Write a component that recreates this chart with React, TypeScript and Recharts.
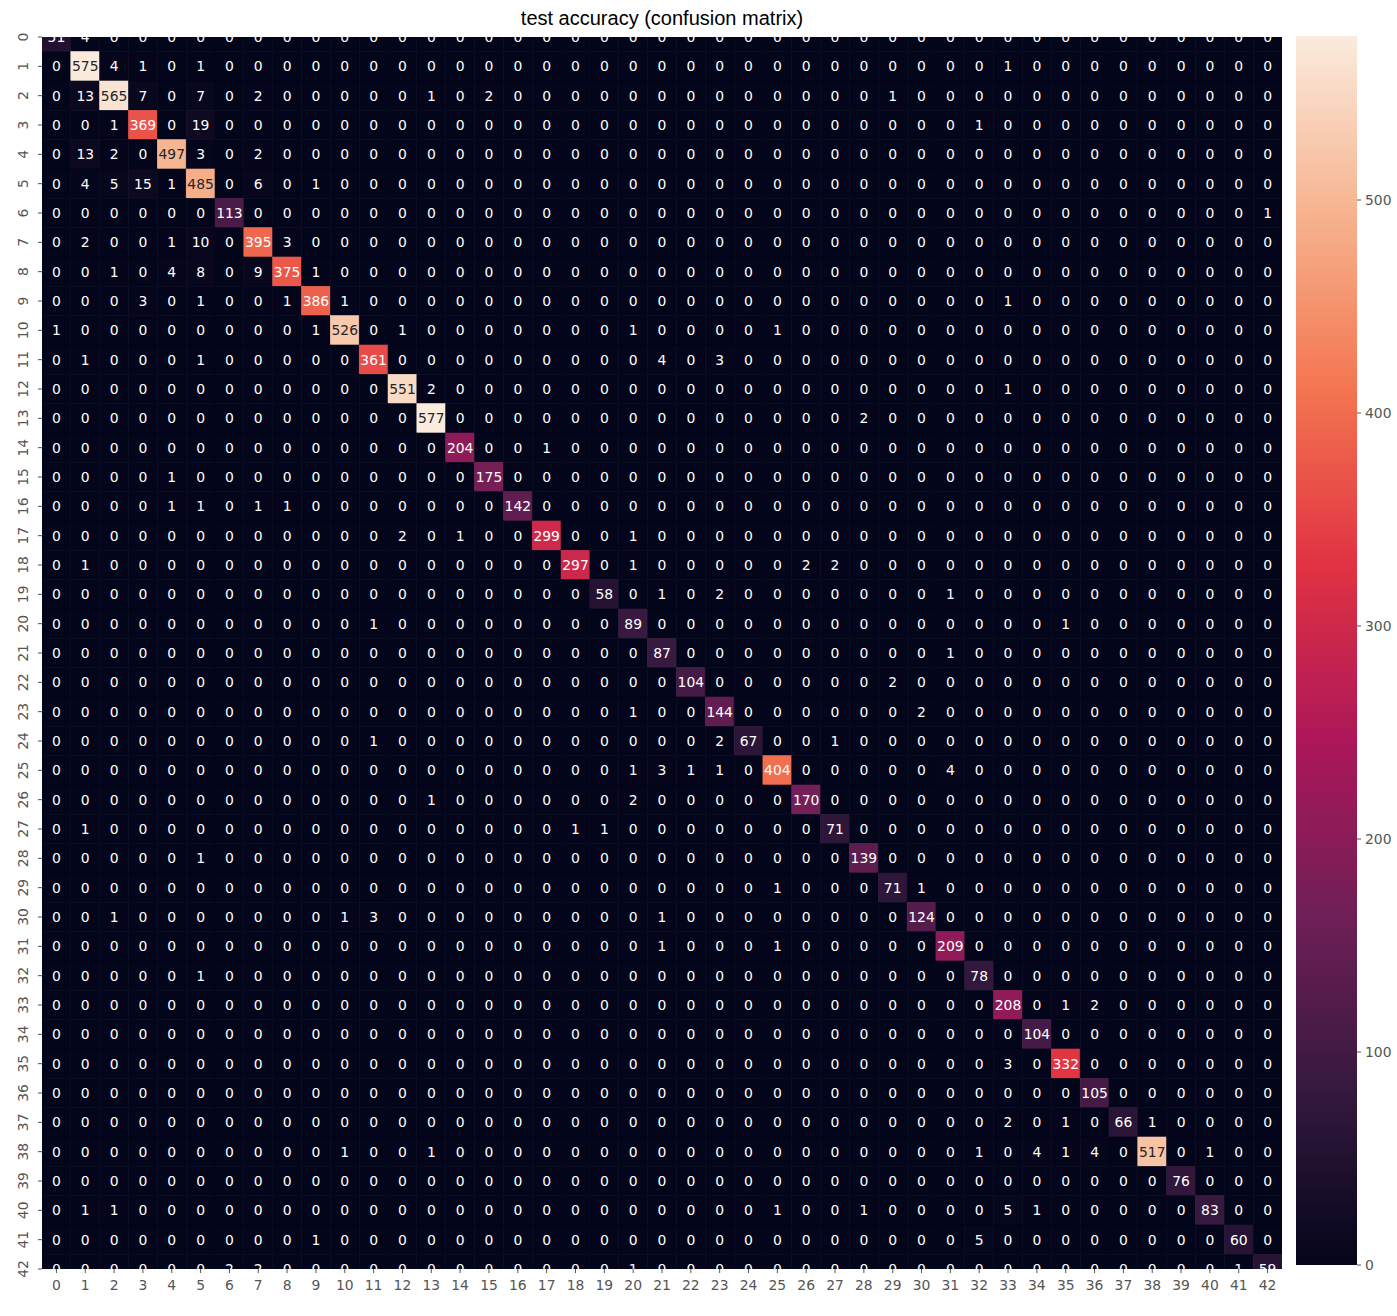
import React from "react";
import { ScatterChart, Scatter, XAxis, YAxis, BarChart, Bar } from "recharts";

// class labels shown on both axes
const classLabels = [
  0, 1, 2, 3, 4, 5, 6, 7, 8, 9, 10, 11, 12, 13, 14, 15, 16, 17, 18, 19, 20, 21,
  22, 23, 24, 25, 26, 27, 28, 29, 30, 31, 32, 33, 34, 35, 36, 37, 38, 39, 40, 41, 42,
];

// correct predictions (row i, col i)
const diagonal = [
  51, 575, 565, 369, 497, 485, 113, 395, 375, 386, 526, 361, 551, 577, 204, 175, 142, 299, 297, 58, 89, 87,
  104, 144, 67, 404, 170, 71, 139, 71, 124, 209, 78, 208, 104, 332, 105, 66, 517, 76, 83, 60, 59,
];

// misclassifications: [true row, predicted col, count]
const offDiagonal: [number, number, number][] = [
  [0, 1, 4],
  [1, 2, 4], [1, 3, 1], [1, 5, 1], [1, 33, 1],
  [2, 1, 13], [2, 3, 7], [2, 5, 7], [2, 7, 2], [2, 13, 1], [2, 15, 2], [2, 29, 1],
  [3, 2, 1], [3, 5, 19], [3, 32, 1],
  [4, 1, 13], [4, 2, 2], [4, 5, 3], [4, 7, 2],
  [5, 1, 4], [5, 2, 5], [5, 3, 15], [5, 4, 1], [5, 7, 6], [5, 9, 1],
  [6, 42, 1],
  [7, 1, 2], [7, 4, 1], [7, 5, 10], [7, 8, 3],
  [8, 2, 1], [8, 4, 4], [8, 5, 8], [8, 7, 9], [8, 9, 1],
  [9, 3, 3], [9, 5, 1], [9, 8, 1], [9, 10, 1], [9, 33, 1],
  [10, 0, 1], [10, 9, 1], [10, 12, 1], [10, 20, 1], [10, 25, 1],
  [11, 1, 1], [11, 5, 1], [11, 21, 4], [11, 23, 3],
  [12, 13, 2], [12, 33, 1],
  [13, 28, 2],
  [14, 17, 1],
  [15, 4, 1],
  [16, 4, 1], [16, 5, 1], [16, 7, 1], [16, 8, 1],
  [17, 12, 2], [17, 14, 1], [17, 20, 1],
  [18, 1, 1], [18, 20, 1], [18, 26, 2], [18, 27, 2],
  [19, 21, 1], [19, 23, 2], [19, 31, 1],
  [20, 11, 1], [20, 35, 1],
  [21, 31, 1],
  [22, 29, 2],
  [23, 20, 1], [23, 30, 2],
  [24, 11, 1], [24, 23, 2], [24, 27, 1],
  [25, 20, 1], [25, 21, 3], [25, 22, 1], [25, 23, 1], [25, 31, 4],
  [26, 13, 1], [26, 20, 2],
  [27, 1, 1], [27, 18, 1], [27, 19, 1],
  [28, 5, 1],
  [29, 25, 1], [29, 30, 1],
  [30, 2, 1], [30, 10, 1], [30, 11, 3], [30, 21, 1],
  [31, 21, 1], [31, 25, 1],
  [32, 5, 1],
  [33, 35, 1], [33, 36, 2],
  [35, 33, 3],
  [37, 33, 2], [37, 35, 1], [37, 38, 1],
  [38, 10, 1], [38, 13, 1], [38, 32, 1], [38, 34, 4], [38, 35, 1], [38, 36, 4], [38, 40, 1],
  [40, 1, 1], [40, 2, 1], [40, 25, 1], [40, 28, 1], [40, 33, 5], [40, 34, 1],
  [41, 9, 1], [41, 32, 5],
  [42, 6, 2], [42, 7, 2], [42, 20, 1], [42, 41, 1],
];

const colorbarTicks = [0, 100, 200, 300, 400, 500];

// seaborn "rocket" colormap, approximated
const ROCKET: [number, string][] = [
  [0, "#03051a"],
  [1 / 7, "#35193e"],
  [2 / 7, "#701f57"],
  [3 / 7, "#ad1759"],
  [4 / 7, "#e13342"],
  [5 / 7, "#f37651"],
  [6 / 7, "#f6b48f"],
  [1, "#faebdd"],
];

const hexToRgb = (h: string) => [1, 3, 5].map((i) => parseInt(h.slice(i, i + 2), 16));

function rocketRgb(t: number) {
  const c = Math.max(0, Math.min(1, t));
  for (let i = 1; i < ROCKET.length; i++) {
    if (c <= ROCKET[i][0]) {
      const [t0, h0] = ROCKET[i - 1];
      const [t1, h1] = ROCKET[i];
      const f = (c - t0) / (t1 - t0);
      const a = hexToRgb(h0);
      const b = hexToRgb(h1);
      return a.map((v, k) => Math.round(v + (b[k] - v) * f));
    }
  }
  return hexToRgb(ROCKET[ROCKET.length - 1][1]);
}

function luminance(rgb: number[]) {
  const lin = rgb.map((v) => {
    const s = v / 255;
    return s <= 0.03928 ? s / 12.92 : Math.pow((s + 0.055) / 1.055, 2.4);
  });
  return 0.2126 * lin[0] + 0.7152 * lin[1] + 0.0722 * lin[2];
}

const N = classLabels.length;
const matrix: number[][] = classLabels.map((r) => classLabels.map((c) => (r === c ? diagonal[r] : 0)));
offDiagonal.forEach(([r, c, v]) => {
  matrix[r][c] = v;
});
const cells = matrix.flatMap((row, r) => row.map((value, c) => ({ x: c, y: r, value })));
const colorMax = Math.max(...cells.map((d) => d.value));

// layout
const CHART_W = 1290;
const CHART_H = 1316;
const MARGIN = { top: 37, right: 8, bottom: 17, left: 12 };
const Y_AXIS_W = 30;
const X_AXIS_H = 30;
const PLOT_W = CHART_W - MARGIN.left - MARGIN.right - Y_AXIS_W;
const PLOT_H = CHART_H - MARGIN.top - MARGIN.bottom - X_AXIS_H;
const CELL_W = PLOT_W / N;
const CELL_H = PLOT_H / (N - 1); // half rows cut at top and bottom

const FONT = "'DejaVu Sans', sans-serif";
const TICK_COLOR = "#555555";

const HeatCell = (props: any) => {
  const { cx, cy, payload } = props;
  if (cx == null || cy == null) return null;
  const rgb = rocketRgb(payload.value / colorMax);
  const fill = `rgb(${rgb.join(",")})`;
  const textColor = luminance(rgb) > 0.408 ? "#262626" : "#ffffff";
  return (
    <g>
      <rect x={cx - CELL_W / 2} y={cy - CELL_H / 2} width={CELL_W} height={CELL_H} fill={fill} stroke={fill} strokeWidth={0.6} />
      <text x={cx} y={cy} textAnchor="middle" dominantBaseline="central" fill={textColor} fontSize={13.9} fontFamily={FONT}>
        {payload.value}
      </text>
    </g>
  );
};

const XTick = ({ x, y, payload }: any) => (
  <text x={x} y={y + 10} textAnchor="middle" dominantBaseline="central" fill={TICK_COLOR} fontSize={13.9} fontFamily={FONT}>
    {payload.value}
  </text>
);

const YTick = ({ x, y, payload }: any) => (
  <text
    x={x - 13}
    y={y}
    transform={`rotate(-90, ${x - 13}, ${y})`}
    textAnchor="middle"
    dominantBaseline="central"
    fill={TICK_COLOR}
    fontSize={13.9}
    fontFamily={FONT}
  >
    {payload.value}
  </text>
);

const CbTick = ({ x, y, payload }: any) => (
  <text x={x + 2} y={y} textAnchor="start" dominantBaseline="central" fill={TICK_COLOR} fontSize={13.9} fontFamily={FONT}>
    {payload.value}
  </text>
);

export default function App() {
  const colorbarData = [{ name: "scale", v: colorMax }];

  return (
    <div style={{ position: "absolute", left: 0, top: 0, width: 1397, height: 1316, background: "#fff" }}>
      <div
        style={{
          position: "absolute",
          left: MARGIN.left + Y_AXIS_W,
          top: 0,
          width: PLOT_W,
          height: 36,
          lineHeight: "36px",
          textAlign: "center",
          fontFamily: "'Liberation Sans', Arial, sans-serif",
          fontSize: 20,
          color: "#000",
        }}
      >
        test accuracy (confusion matrix)
      </div>

      <div style={{ position: "absolute", left: 0, top: 0 }}>
        <ScatterChart width={CHART_W} height={CHART_H} margin={MARGIN}>
          <XAxis
            type="number"
            dataKey="x"
            domain={[-0.5, N - 0.5]}
            ticks={classLabels}
            interval={0}
            allowDataOverflow
            axisLine={false}
            tickSize={4}
            tickLine={{ stroke: TICK_COLOR }}
            height={X_AXIS_H}
            tick={<XTick />}
          />
          <YAxis
            type="number"
            dataKey="y"
            domain={[0, N - 1]}
            reversed
            ticks={classLabels}
            interval={0}
            allowDataOverflow
            axisLine={false}
            tickSize={4}
            tickLine={{ stroke: TICK_COLOR }}
            width={Y_AXIS_W}
            tick={<YTick />}
          />
          <Scatter data={cells} shape={HeatCell} isAnimationActive={false} />
        </ScatterChart>
      </div>

      <div style={{ position: "absolute", left: 1296, top: 0 }}>
        <BarChart
          width={101}
          height={CHART_H}
          data={colorbarData}
          margin={{ top: 36, right: 0, bottom: 51, left: 0 }}
          barCategoryGap={0}
        >
          <defs>
            <linearGradient id="rocketGrad" x1="0" y1="1" x2="0" y2="0">
              {ROCKET.map(([t, c]) => (
                <stop key={t} offset={t} stopColor={c} />
              ))}
            </linearGradient>
          </defs>
          <XAxis dataKey="name" hide />
          <YAxis
            orientation="right"
            type="number"
            domain={[0, colorMax]}
            ticks={colorbarTicks}
            interval={0}
            axisLine={false}
            tickSize={4}
            tickLine={{ stroke: TICK_COLOR }}
            width={40}
            tick={<CbTick />}
          />
          <Bar dataKey="v" fill="url(#rocketGrad)" isAnimationActive={false} />
        </BarChart>
      </div>
    </div>
  );
}
